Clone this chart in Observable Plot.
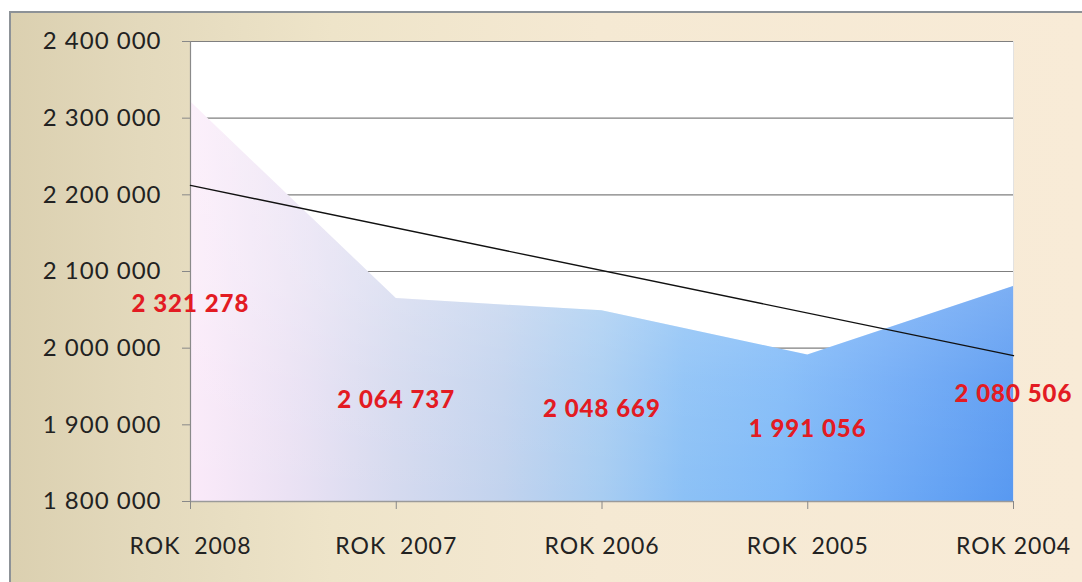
<!DOCTYPE html>
<html><head><meta charset="utf-8">
<script src="https://cdn.jsdelivr.net/npm/d3@7"></script>
<script src="https://cdn.jsdelivr.net/npm/@observablehq/plot@0.6"></script>
<style>
html,body{margin:0;padding:0;background:#fff;width:1082px;height:582px;overflow:hidden;}
#bg{position:absolute;left:9px;top:11px;width:1073px;height:571px;box-sizing:border-box;
  border-left:2px solid #8d9297;border-top:2px solid #8d9297;
  background:linear-gradient(to right,#dbd0b0 0%,#e3d9bc 12%,#eee4c9 30%,#f5e9d3 55%,#f8ebd7 100%);}
#chart{position:absolute;left:0;top:0;}
svg text{white-space:pre;}
</style></head><body><div id="bg"></div><div id="chart"></div>
<script>
const years = [2008, 2007, 2006, 2005, 2004];
const yearLabels = ["ROK  2008", "ROK  2007", "ROK 2006", "ROK  2005", "ROK 2004"];
const values = [2321278, 2064737, 2048669, 1991056, 2080506];
const valueLabels = ["2 321 278", "2 064 737", "2 048 669", "1 991 056", "2 080 506"];
const yTicks = [1800000, 1900000, 2000000, 2100000, 2200000, 2300000, 2400000];
const yTickLabels = ["1 800 000", "1 900 000", "2 000 000", "2 100 000", "2 200 000", "2 300 000", "2 400 000"];

const data = years.map((year, i) => ({year, value: values[i], label: valueLabels[i]}));
const labelDy = [202, 102, 98, 74, 108];
const base = yTicks[0];

const labelMarks = data.map((d, i) => Plot.text([d], {
  x: "year", y: "value", text: "label", dy: labelDy[i],
  fill: "#e31b23", fontWeight: 900, fontSize: 24, textAnchor: "middle"
}));

const svg = Plot.plot({
  width: 1082, height: 582,
  marginLeft: 190, marginRight: 69, marginTop: 41, marginBottom: 81,
  style: {background: "transparent", fontFamily: "Lato", letterSpacing: "1px", overflow: "visible"},
  x: {domain: [2008, 2004], label: null},
  y: {domain: [yTicks[0], yTicks[yTicks.length - 1]], label: null},
  marks: [
    Plot.frame({fill: "white", stroke: null}),
    Plot.ruleY(yTicks.slice(1), {stroke: "#7f7f7f", strokeWidth: 1.2}),
    Plot.areaY(data, {x: "year", y1: () => base, y2: "value", fill: "url(#areaFill)"}),
    Plot.areaY(data, {x: "year", y1: () => base, y2: "value", fill: "url(#areaLight)"}),
    Plot.ruleX([2004], {stroke: "#e2e2e2"}),
    Plot.ruleX([2008], {stroke: "#8a8a8a", strokeWidth: 1.2}),
    Plot.ruleY([base], {stroke: "#9a9a9a", strokeWidth: 1.5}),
    Plot.linearRegressionY(data, {x: "year", y: "value", ci: 0, stroke: "#111", strokeWidth: 1.4}),
    Plot.axisY(yTicks, {tickFormat: d => yTickLabels[yTicks.indexOf(d)], tickSize: 8, tickPadding: 21,
      fontSize: 24, stroke: "#888", fill: "#222", label: null}),
    Plot.axisX(years, {tickFormat: d => yearLabels[years.indexOf(d)], tickSize: 8, tickPadding: 28,
      fontSize: 23, stroke: "#888", fill: "#222", label: null}),
    ...labelMarks
  ]
});

const defs = d3.select(svg).insert("defs", ":first-child");
const grad = defs.append("linearGradient").attr("id", "areaFill")
  .attr("x1", 0).attr("y1", 0).attr("x2", 1).attr("y2", 0);
[[0, "#fbeaf9"], [0.12, "#ebe2f4"], [0.25, "#d5daef"], [0.38, "#c2d3ee"], [0.5, "#a8cdf2"],
 [0.6, "#8cc1f6"], [0.72, "#80baf8"], [0.85, "#6eaaf6"], [1, "#5899f1"]]
  .forEach(([o, c]) => grad.append("stop").attr("offset", o).attr("stop-color", c));
const light = defs.append("linearGradient").attr("id", "areaLight")
  .attr("x1", 0).attr("y1", 0).attr("x2", 0).attr("y2", 1);
[[0, 0.3], [0.45, 0.22], [0.7, 0.08], [1, 0]]
  .forEach(([o, a]) => light.append("stop").attr("offset", o).attr("stop-color", "#ffffff").attr("stop-opacity", a));

document.getElementById("chart").appendChild(svg);
</script>
</body></html>
